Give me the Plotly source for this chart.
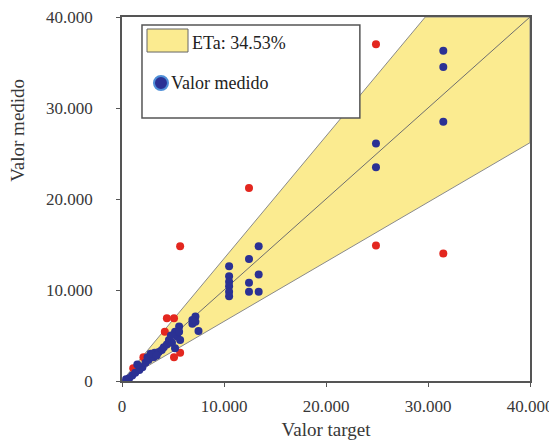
import plotly.graph_objects as go

# ---- data ----
eta_pct = 34.53
axis_max = 40000
tick_vals = [0, 10000, 20000, 30000, 40000]

blue_x = [400, 700, 1000, 1300, 1700, 2000, 2300, 2600, 2500, 3100, 3200, 3600, 3900,
          4400, 4600, 4900, 5200, 5400, 5700, 5600, 5200, 5600, 4800, 1500, 2800, 3400,
          4100, 6900, 7200, 7200, 7500, 6900,
          10500, 10500, 10500, 10500, 10500, 10500,
          12450, 12450, 12450, 13400, 13400, 13400,
          24900, 24900, 31500, 31500, 31500]
blue_y = [200, 300, 600, 900, 1200, 1500, 2000, 2300, 2600, 2600, 3100, 3200, 3400,
          4000, 4500, 4200, 3600, 4900, 4500, 6000, 5400, 5400, 5000, 1800, 3000, 2800,
          3700, 6300, 7100, 6500, 5500, 6700,
          12600, 11500, 10900, 10400, 9800, 9300,
          13400, 10800, 9800, 14800, 11700, 9800,
          26100, 23500, 36300, 34500, 28500]

red_x = [600, 1100, 2100, 4400, 5100, 4200, 5700, 5100, 5700, 12450, 24900, 24900, 31500]
red_y = [100, 1400, 2600, 6900, 6900, 5400, 3100, 2600, 14800, 21200, 37000, 14900, 14000]

legend_eta = "ETa: 34.53%"
legend_meas = "Valor medido"
x_title = "Valor target"
y_title = "Valor medido"

# ---- derived cone ----
up = 1 + eta_pct / 100
lo = 1 - eta_pct / 100
cone_x = [0, axis_max / up, axis_max, axis_max, 0]
cone_y = [0, axis_max, axis_max, axis_max * lo, 0]

FONT = "Liberation Serif, Times New Roman, serif"
BLUE = "#2b3194"
RED = "#e3271f"
YELLOW = "#fbeb90"
EDGE = "#8a8a8a"
TXT = "#383838"

fig = go.Figure()
fig.add_trace(go.Scatter(x=cone_x, y=cone_y, mode="lines", fill="toself",
                         fillcolor=YELLOW, line=dict(color=EDGE, width=1),
                         name=legend_eta, hoverinfo="skip", showlegend=False))
fig.add_trace(go.Scatter(x=[0, axis_max], y=[0, axis_max], mode="lines",
                         line=dict(color="#6e6e6e", width=1), showlegend=False))
fig.add_trace(go.Scatter(x=red_x, y=red_y, mode="markers",
                         marker=dict(color=RED, size=8), showlegend=False))
fig.add_trace(go.Scatter(x=blue_x, y=blue_y, mode="markers", name=legend_meas,
                         marker=dict(color=BLUE, size=8), showlegend=False))

axis_common = dict(range=[0, axis_max], tickvals=tick_vals, tickformat=",.0f",
                   showgrid=False, zeroline=False, showline=True, mirror=True,
                   linecolor="#555555", linewidth=1.5, ticks="outside", ticklen=4,
                   tickcolor="#555555", automargin=False, ticklabeloverflow="allow",
                   tickfont=dict(family=FONT, size=17, color=TXT))

# legend drawn as a boxed key (paper coordinates)
shapes = [
    dict(type="rect", xref="paper", yref="paper",
         x0=0.049, x1=0.583, y0=0.7225, y1=0.978, layer="above",
         fillcolor="white", line=dict(color="#555555", width=1.5)),
    dict(type="rect", xref="paper", yref="paper",
         x0=0.0613, x1=0.1618, y0=0.9038, y1=0.967, layer="above",
         fillcolor=YELLOW, line=dict(color="#666666", width=1)),
    dict(type="circle", xref="paper", yref="paper",
         x0=0.0784, x1=0.1127, y0=0.7995, y1=0.8379, layer="above",
         fillcolor=BLUE, line=dict(color="#4f8fd8", width=2)),
]
annotations = [
    dict(text=legend_eta, xref="paper", yref="paper", x=0.1667, y=0.9286,
         xanchor="left", yanchor="middle", showarrow=False,
         font=dict(family=FONT, size=18, color="#222222")),
    dict(text=legend_meas, xref="paper", yref="paper", x=0.114, y=0.8187,
         xanchor="left", yanchor="middle", showarrow=False,
         font=dict(family=FONT, size=18, color="#222222")),
    dict(text=y_title, xref="paper", yref="paper", x=-0.255, y=0.69,
         xanchor="center", yanchor="middle", textangle=-90, showarrow=False,
         font=dict(family=FONT, size=19, color=TXT)),
]

# page body has an 8px default margin; size the figure so the plot lands in place
fig.update_layout(
    width=549, height=436,
    margin=dict(l=114, r=27, t=9, b=63),
    paper_bgcolor="white", plot_bgcolor="white",
    separators=",.",
    font=dict(family=FONT, color=TXT),
    xaxis=dict(**axis_common, ticklabelstandoff=5,
               title=dict(text=x_title, font=dict(family=FONT, size=19, color=TXT), standoff=8)),
    yaxis=dict(**axis_common, ticklabelstandoff=20),
    showlegend=False,
    shapes=shapes,
    annotations=annotations,
)

fig.write_html("out.html")
